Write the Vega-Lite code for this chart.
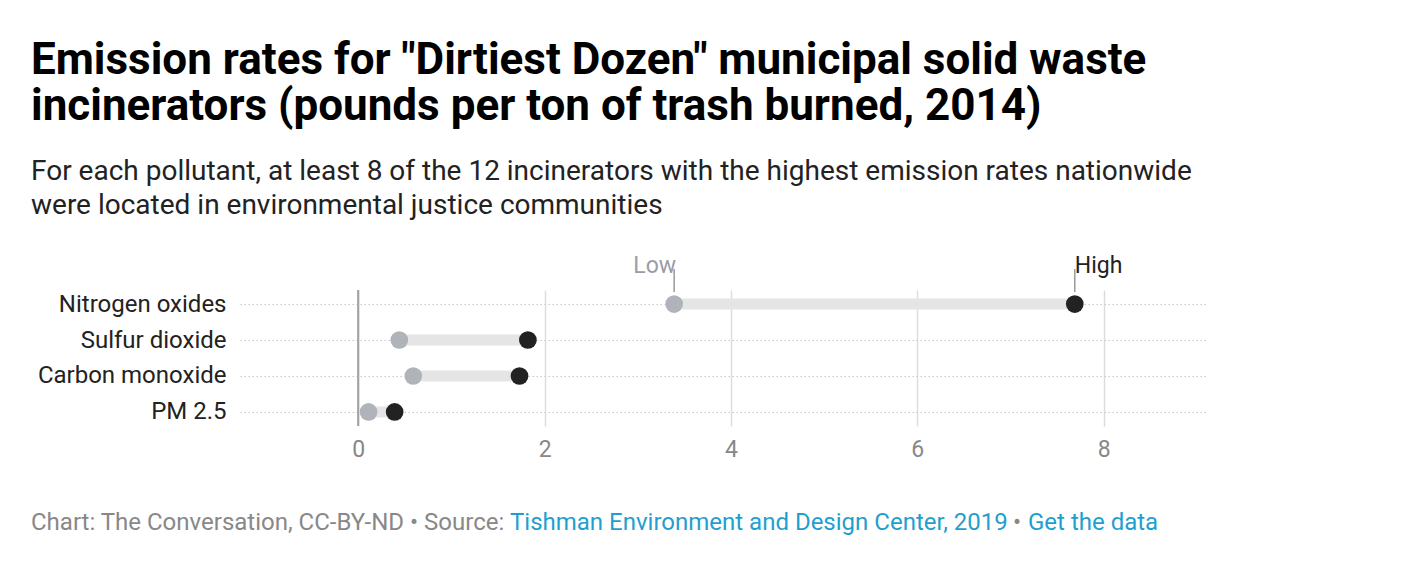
{
  "$schema": "https://vega.github.io/schema/vega-lite/v6.json",
  "width": 968,
  "height": 136,
  "autosize": {"type": "none"},
  "padding": {"left": 240, "top": 290, "right": 196, "bottom": 154},
  "background": "white",
  "config": {
    "font": "Roboto",
    "view": {"stroke": null}
  },
  "title": {
    "text": ["Emission rates for \"Dirtiest Dozen\" municipal solid waste", "incinerators (pounds per ton of trash burned, 2014)"],
    "subtitle": ["For each pollutant, at least 8 of the 12 incinerators with the highest emission rates nationwide", "were located in environmental justice communities"],
    "anchor": "start",
    "frame": "group",
    "dx": -209,
    "font": "Roboto",
    "fontSize": 44,
    "fontWeight": "bold",
    "color": "#000000",
    "lineHeight": 46,
    "subtitleFont": "Roboto",
    "subtitleFontSize": 28,
    "subtitleColor": "#222222",
    "subtitleLineHeight": 34,
    "subtitlePadding": 29,
    "offset": 35
  },
  "data": {
    "values": [
      {"pollutant": "Nitrogen oxides", "low": 3.39, "high": 7.69},
      {"pollutant": "Sulfur dioxide", "low": 0.44, "high": 1.82},
      {"pollutant": "Carbon monoxide", "low": 0.59, "high": 1.73},
      {"pollutant": "PM 2.5", "low": 0.11, "high": 0.39}
    ]
  },
  "encoding": {
    "y": {
      "field": "pollutant",
      "type": "nominal",
      "sort": null,
      "scale": {"type": "point", "padding": 0.39},
      "axis": {
        "title": null,
        "domain": false,
        "ticks": false,
        "labelFontSize": 24,
        "labelColor": "#222222",
        "labelPadding": 14,
        "labelLimit": 400,
        "grid": true,
        "gridColor": "#c8c8c8",
        "gridDash": [1.5, 2.5],
        "gridWidth": 1.2
      }
    }
  },
  "layer": [
    {
      "mark": {"type": "rule", "stroke": "#e5e5e5", "strokeWidth": 11},
      "encoding": {
        "x": {
          "field": "low",
          "type": "quantitative",
          "scale": {"domain": [-1.27, 9.12], "nice": false, "zero": false},
          "axis": {
            "title": null,
            "values": [0, 2, 4, 6, 8],
            "format": "d",
            "domain": false,
            "ticks": false,
            "labelFontSize": 23,
            "labelColor": "#888888",
            "labelPadding": 12,
            "grid": true,
            "gridColor": "#dcdcdc",
            "gridWidth": 1.5
          }
        },
        "x2": {"field": "high"}
      }
    },
    {
      "mark": {"type": "rule", "stroke": "#a3a3a3", "strokeWidth": 1.5},
      "encoding": {"x": {"datum": 0, "type": "quantitative"}, "y": null}
    },
    {
      "mark": {"type": "point", "filled": true, "size": 314, "opacity": 1, "color": "#b1b3bb"},
      "encoding": {"x": {"field": "low", "type": "quantitative"}}
    },
    {
      "mark": {"type": "point", "filled": true, "size": 314, "opacity": 1, "color": "#222222"},
      "encoding": {"x": {"field": "high", "type": "quantitative"}}
    },
    {
      "transform": [{"filter": "datum.pollutant === 'Nitrogen oxides'"}],
      "mark": {"type": "rule", "stroke": "#999999", "strokeWidth": 1.5, "yOffset": -12, "y2Offset": -35},
      "encoding": {"x": {"field": "low", "type": "quantitative"}, "y2": {"field": "pollutant"}}
    },
    {
      "transform": [{"filter": "datum.pollutant === 'Nitrogen oxides'"}],
      "mark": {"type": "rule", "stroke": "#999999", "strokeWidth": 1.5, "yOffset": -12, "y2Offset": -35},
      "encoding": {"x": {"field": "high", "type": "quantitative"}, "y2": {"field": "pollutant"}}
    },
    {
      "transform": [{"filter": "datum.pollutant === 'Nitrogen oxides'"}],
      "mark": {"type": "text", "text": "Low", "align": "right", "baseline": "middle", "dx": 2, "dy": -38, "fontSize": 23, "color": "#9b9da5"},
      "encoding": {"x": {"field": "low", "type": "quantitative"}}
    },
    {
      "transform": [{"filter": "datum.pollutant === 'Nitrogen oxides'"}],
      "mark": {"type": "text", "text": "High", "align": "left", "baseline": "middle", "dx": 0, "dy": -38, "fontSize": 23, "color": "#222222"},
      "encoding": {"x": {"field": "high", "type": "quantitative"}}
    },
    {
      "data": {"values": [{"part": "Chart: The Conversation, CC-BY-ND • Source: "}]},
      "mark": {"type": "text", "align": "left", "baseline": "middle", "fontSize": 24, "color": "#888888", "x": -209, "y": 233},
      "encoding": {"text": {"field": "part"}, "y": null}
    },
    {
      "data": {"values": [{"part": "Tishman Environment and Design Center, 2019"}]},
      "mark": {"type": "text", "align": "left", "baseline": "middle", "fontSize": 24, "color": "#1f9fcf", "x": 270, "y": 233},
      "encoding": {"text": {"field": "part"}, "y": null}
    },
    {
      "data": {"values": [{"part": "•"}]},
      "mark": {"type": "text", "align": "center", "baseline": "middle", "fontSize": 24, "color": "#888888", "x": 777, "y": 233},
      "encoding": {"text": {"field": "part"}, "y": null}
    },
    {
      "data": {"values": [{"part": "Get the data"}]},
      "mark": {"type": "text", "align": "left", "baseline": "middle", "fontSize": 24, "color": "#1f9fcf", "x": 788, "y": 233},
      "encoding": {"text": {"field": "part"}, "y": null}
    }
  ]
}
